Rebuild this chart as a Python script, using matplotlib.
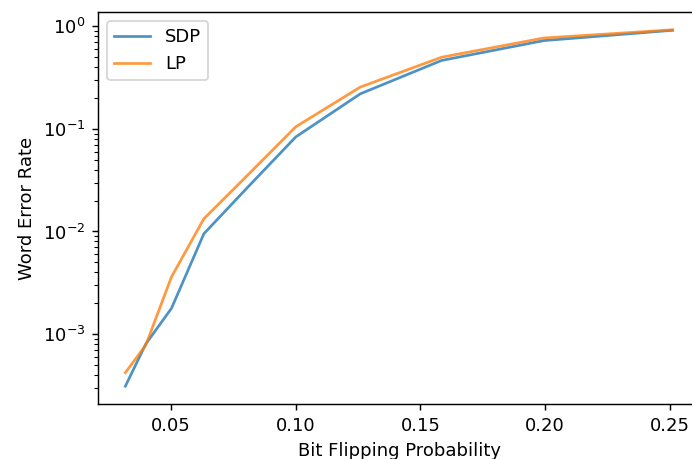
import matplotlib
matplotlib.use("Agg")
import matplotlib.pyplot as plt

# bit flipping probabilities (log-spaced)
p = [0.0316, 0.0398, 0.0501, 0.0631, 0.0794, 0.1, 0.1259, 0.1585, 0.1995, 0.2512]
sdp = [3.1e-4, 8.0e-4, 1.78e-3, 9.5e-3, 0.025, 0.0836, 0.22, 0.465, 0.726, 0.915]
lp = [4.2e-4, 7.8e-4, 3.6e-3, 1.33e-2, 0.033, 0.105, 0.256, 0.50, 0.77, 0.925]

dpi = 130
fig = plt.figure(figsize=(692 / dpi, 459 / dpi), dpi=dpi)
# axes runs slightly past the right edge (original image was cropped)
ax = fig.add_axes([98 / 692, 55 / 459, 602 / 692, 392 / 459])

ax.plot(p, sdp, label="SDP", alpha=0.8)
ax.plot(p, lp, label="LP", alpha=0.8)
ax.set_yscale("log")
ax.set_xticks([0.05, 0.10, 0.15, 0.20, 0.25])
ax.set_xlabel("Bit Flipping Probability")
ax.set_ylabel("Word Error Rate")
ax.legend(loc="upper left")

fig.savefig("out.png", dpi=dpi)
